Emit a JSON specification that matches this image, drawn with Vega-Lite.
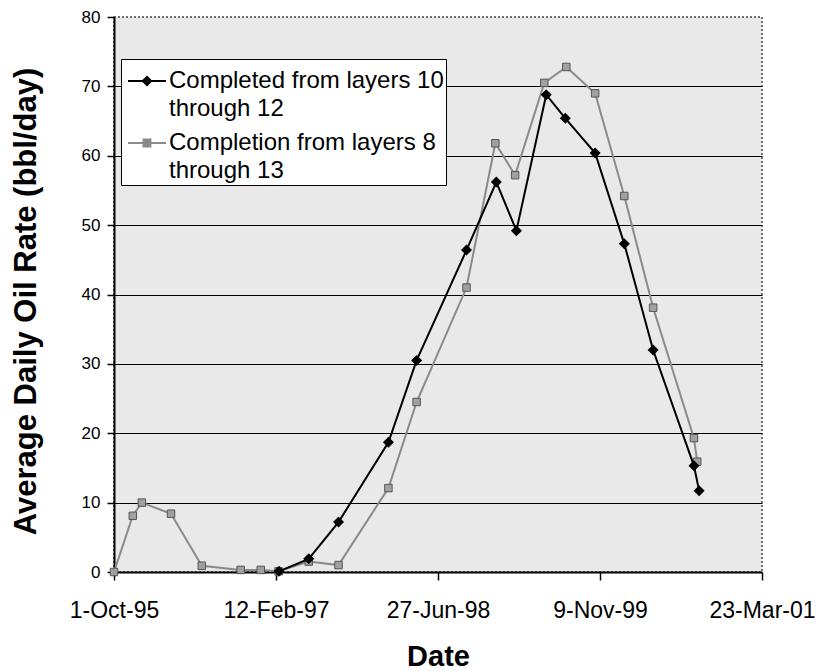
{
  "$schema": "https://vega.github.io/schema/vega-lite/v6.json",
  "width": 648,
  "height": 555,
  "autosize": {"type": "none"},
  "padding": {"left": 114, "top": 17, "right": 57, "bottom": 99},
  "background": "white",
  "config": {
    "font": "Liberation Sans",
    "view": {"fill": "#e9e9e9", "stroke": "#444", "strokeDash": [2, 2], "strokeWidth": 1.5}
  },
  "datasets": {
    "rates": [
      {"date": "1995-10-01", "series": "Completion from layers 8 through 13", "rate": 0},
      {"date": "1995-11-28", "series": "Completion from layers 8 through 13", "rate": 8.1},
      {"date": "1995-12-26", "series": "Completion from layers 8 through 13", "rate": 10.0},
      {"date": "1996-03-25", "series": "Completion from layers 8 through 13", "rate": 8.4},
      {"date": "1996-06-28", "series": "Completion from layers 8 through 13", "rate": 0.9},
      {"date": "1996-10-26", "series": "Completion from layers 8 through 13", "rate": 0.3},
      {"date": "1996-12-27", "series": "Completion from layers 8 through 13", "rate": 0.3},
      {"date": "1997-02-20", "series": "Completion from layers 8 through 13", "rate": 0.1},
      {"date": "1997-05-24", "series": "Completion from layers 8 through 13", "rate": 1.5},
      {"date": "1997-08-24", "series": "Completion from layers 8 through 13", "rate": 1.0},
      {"date": "1998-01-25", "series": "Completion from layers 8 through 13", "rate": 12.1},
      {"date": "1998-04-22", "series": "Completion from layers 8 through 13", "rate": 24.5},
      {"date": "1998-09-23", "series": "Completion from layers 8 through 13", "rate": 41.0},
      {"date": "1998-12-21", "series": "Completion from layers 8 through 13", "rate": 61.8},
      {"date": "1999-02-20", "series": "Completion from layers 8 through 13", "rate": 57.2},
      {"date": "1999-05-21", "series": "Completion from layers 8 through 13", "rate": 70.5},
      {"date": "1999-07-28", "series": "Completion from layers 8 through 13", "rate": 72.8},
      {"date": "1999-10-25", "series": "Completion from layers 8 through 13", "rate": 69.0},
      {"date": "2000-01-23", "series": "Completion from layers 8 through 13", "rate": 54.2},
      {"date": "2000-04-21", "series": "Completion from layers 8 through 13", "rate": 38.1},
      {"date": "2000-08-25", "series": "Completion from layers 8 through 13", "rate": 19.3},
      {"date": "2000-09-04", "series": "Completion from layers 8 through 13", "rate": 15.9},
      {"date": "1997-02-21", "series": "Completed from layers 10 through 12", "rate": 0.1},
      {"date": "1997-05-24", "series": "Completed from layers 10 through 12", "rate": 1.9},
      {"date": "1997-08-24", "series": "Completed from layers 10 through 12", "rate": 7.2},
      {"date": "1998-01-25", "series": "Completed from layers 10 through 12", "rate": 18.7},
      {"date": "1998-04-22", "series": "Completed from layers 10 through 12", "rate": 30.5},
      {"date": "1998-09-23", "series": "Completed from layers 10 through 12", "rate": 46.4},
      {"date": "1998-12-24", "series": "Completed from layers 10 through 12", "rate": 56.2},
      {"date": "1999-02-24", "series": "Completed from layers 10 through 12", "rate": 49.2},
      {"date": "1999-05-27", "series": "Completed from layers 10 through 12", "rate": 68.8},
      {"date": "1999-07-25", "series": "Completed from layers 10 through 12", "rate": 65.4},
      {"date": "1999-10-25", "series": "Completed from layers 10 through 12", "rate": 60.4},
      {"date": "2000-01-23", "series": "Completed from layers 10 through 12", "rate": 47.3},
      {"date": "2000-04-21", "series": "Completed from layers 10 through 12", "rate": 32.0},
      {"date": "2000-08-25", "series": "Completed from layers 10 through 12", "rate": 15.3},
      {"date": "2000-09-10", "series": "Completed from layers 10 through 12", "rate": 11.7}
    ]
  },
  "data": {"name": "rates"},
  "encoding": {
    "x": {
      "field": "date",
      "type": "temporal",
      "title": "Date",
      "scale": {
        "type": "utc",
        "domain": [
          {"year": 1995, "month": 10, "date": 1, "utc": true},
          {"year": 2001, "month": 3, "date": 23, "utc": true}
        ]
      },
      "axis": {
        "values": [
          {"year": 1995, "month": 10, "date": 1, "utc": true},
          {"year": 1997, "month": 2, "date": 12, "utc": true},
          {"year": 1998, "month": 6, "date": 27, "utc": true},
          {"year": 1999, "month": 11, "date": 9, "utc": true},
          {"year": 2001, "month": 3, "date": 23, "utc": true}
        ],
        "labelExpr": "utcFormat(datum.value, '%-d-%b-%y')",
        "grid": false,
        "domainColor": "black",
        "domainWidth": 2,
        "tickColor": "black",
        "tickWidth": 1.5,
        "tickSize": 8,
        "labelFont": "Liberation Sans",
        "labelFontSize": 23,
        "labelColor": "black",
        "labelBaseline": "alphabetic",
        "labelPadding": 37,
        "labelFlush": false,
        "labelOverlap": false,
        "titleFont": "Liberation Sans",
        "titleFontSize": 29,
        "titleFontWeight": "bold",
        "titleColor": "black",
        "titleBaseline": "alphabetic",
        "titleAlign": "center",
        "titleX": 324,
        "titleY": 93
      }
    },
    "y": {
      "field": "rate",
      "type": "quantitative",
      "title": "Average Daily Oil Rate (bbl/day)",
      "scale": {"domain": [0, 80], "nice": false},
      "axis": {
        "values": [0, 10, 20, 30, 40, 50, 60, 70, 80],
        "grid": true,
        "gridColor": "black",
        "gridWidth": 1.2,
        "gridOpacity": {"condition": {"test": "datum.value === 80 || datum.value === 0", "value": 0}, "value": 1},
        "domainColor": "black",
        "domainWidth": 2,
        "tickColor": "black",
        "tickWidth": 1.5,
        "tickSize": 7,
        "labelFont": "Liberation Sans",
        "labelFontSize": 17,
        "labelColor": "black",
        "labelPadding": 7,
        "labelFlush": false,
        "titleFont": "Liberation Sans",
        "titleFontSize": 31,
        "titleFontWeight": "bold",
        "titleColor": "black",
        "titleAngle": -90,
        "titleBaseline": "alphabetic",
        "titleAlign": "center",
        "titleX": -79,
        "titleY": 284
      }
    }
  },
  "layer": [
    {
      "transform": [{"filter": "datum.series === 'Completion from layers 8 through 13'"}],
      "mark": {"type": "line", "color": "#8a8a8a", "strokeWidth": 2},
      "encoding": {}
    },
    {
      "transform": [{"filter": "datum.series === 'Completion from layers 8 through 13'"}],
      "mark": {"type": "point", "shape": "square", "filled": true, "size": 56, "fill": "#a0a0a0", "stroke": "#555555", "strokeWidth": 1, "opacity": 1},
      "encoding": {}
    },
    {
      "transform": [{"filter": "datum.series === 'Completed from layers 10 through 12'"}],
      "mark": {"type": "line", "color": "black", "strokeWidth": 2},
      "encoding": {}
    },
    {
      "transform": [{"filter": "datum.series === 'Completed from layers 10 through 12'"}],
      "mark": {"type": "point", "shape": "diamond", "filled": true, "size": 121, "color": "black", "opacity": 1},
      "encoding": {}
    },
    {
      "mark": {"type": "point", "filled": true, "opacity": 0},
      "encoding": {
        "color": {
          "field": "series",
          "type": "nominal",
          "scale": {
            "domain": ["Completed from layers 10 through 12", "Completion from layers 8 through 13"],
            "range": ["#000000", "#8a8a8a"]
          },
          "legend": {
            "orient": "none",
            "legendX": 7,
            "legendY": 42,
            "title": null,
            "fillColor": "white",
            "strokeColor": "black",
            "padding": 2,
            "symbolOffset": 4,
            "labelFont": "Liberation Sans",
            "labelFontSize": 24,
            "labelColor": "black",
            "labelLimit": 500,
            "labelOffset": 2,
            "rowPadding": 2,
            "symbolOpacity": 1,
            "symbolSize": 1444,
            "symbolStrokeWidth": 2,
            "labelExpr": "datum.label === 'Completed from layers 10 through 12' ? ['Completed from layers 10', 'through 12'] : ['Completion from layers 8', 'through 13']",
            "encode": {
              "labels": {"update": {"lineHeight": {"value": 28}}},
              "symbols": {"update": {"stroke": {"scale": "color", "field": "value"}, "size": {"value": 1444}, "opacity": {"value": 1}}}
            }
          }
        },
        "shape": {
          "field": "series",
          "type": "nominal",
          "scale": {
            "domain": ["Completed from layers 10 through 12", "Completion from layers 8 through 13"],
            "range": ["M-1,0H1M-0.22,0L0,-0.22L0.22,0L0,0.22Z", "M-1,0H1M-0.18,-0.18H0.18V0.18H-0.18Z"]
          }
        }
      }
    }
  ]
}
